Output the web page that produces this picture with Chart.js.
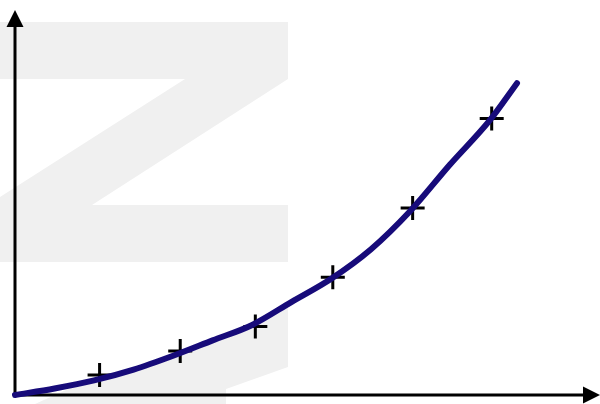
<!DOCTYPE html>
<html>
<head>
<meta charset="utf-8">
<style>
  html, body { margin: 0; padding: 0; background: #fff; overflow: hidden; }
  canvas { display: block; }
</style>
</head>
<body>
<canvas id="growthChart" width="600" height="404"></canvas>
<script src="https://cdn.jsdelivr.net/npm/chart.js@4/dist/chart.umd.min.js"></script>
<script>
// smooth trend curve
const curveX = [0, 0.5, 1, 1.5, 2, 2.5, 3, 3.5, 4, 4.5, 5, 5.5, 6, 6.35];
const curveY = [0, 0.85, 1.9, 3.3, 5.1, 7.1, 9.1, 12.1, 15.1, 18.9, 23.9, 29.9, 35.6, 40.5];

// measured samples (drawn as + marks)
const sampleX = [1.07, 2.09, 3.04, 4.02, 5.03, 6.03];
const sampleY = [2.6, 5.7, 8.9, 15.3, 24.3, 35.9];

const X_MAX = 7.4;
const Y_MAX = 50;

const toPoints = (xs, ys) => xs.map((x, i) => ({x: x, y: ys[i]}));

// big grey "Z" behind the plot
const watermark = {
  id: 'watermark',
  beforeDatasetsDraw(chart) {
    const ctx = chart.ctx;
    ctx.save();
    ctx.fillStyle = '#f0f0f0';
    ctx.beginPath();
    ctx.moveTo(0, 22);
    ctx.lineTo(288, 22);
    ctx.lineTo(288, 79);
    ctx.lineTo(92, 205);
    ctx.lineTo(288, 205);
    ctx.lineTo(288, 262);
    ctx.lineTo(0, 262);
    ctx.lineTo(0, 197);
    ctx.lineTo(185, 79);
    ctx.lineTo(0, 79);
    ctx.closePath();
    ctx.fill();

    // lower piece only shows underneath the curve
    const meta = chart.getDatasetMeta(0);
    const pts = meta.data;
    ctx.beginPath();
    if (typeof meta.dataset.path === 'function') {
      meta.dataset.path(ctx);
    } else {
      ctx.moveTo(pts[0].x, pts[0].y);
      for (let i = 1; i < pts.length; i++) ctx.lineTo(pts[i].x, pts[i].y);
    }
    ctx.lineTo(pts[pts.length - 1].x, chart.height);
    ctx.lineTo(pts[0].x, chart.height);
    ctx.closePath();
    ctx.clip();

    ctx.beginPath();
    ctx.moveTo(35, 404);
    ctx.lineTo(226, 404);
    ctx.lineTo(226, 389);
    ctx.lineTo(288, 367);
    ctx.lineTo(288, 290);
    ctx.closePath();
    ctx.fill();
    ctx.restore();
  }
};

// plain axes with arrow heads
const arrowAxes = {
  id: 'arrowAxes',
  beforeDatasetsDraw(chart) {
    const {ctx, scales: {x, y}} = chart;
    const ox = x.getPixelForValue(0);
    const oy = y.getPixelForValue(0);
    const xEnd = x.getPixelForValue(X_MAX);
    const yEnd = y.getPixelForValue(Y_MAX);
    const head = 17, half = 8.5;

    ctx.save();
    ctx.strokeStyle = '#000';
    ctx.fillStyle = '#000';
    ctx.lineWidth = 3;
    ctx.beginPath();
    ctx.moveTo(ox, oy);
    ctx.lineTo(xEnd - head + 1, oy);
    ctx.moveTo(ox, oy);
    ctx.lineTo(ox, yEnd + head - 1);
    ctx.stroke();

    ctx.beginPath();
    ctx.moveTo(xEnd, oy);
    ctx.lineTo(xEnd - head, oy - half);
    ctx.lineTo(xEnd - head, oy + half);
    ctx.closePath();
    ctx.fill();

    ctx.beginPath();
    ctx.moveTo(ox, yEnd);
    ctx.lineTo(ox - half, yEnd + head);
    ctx.lineTo(ox + half, yEnd + head);
    ctx.closePath();
    ctx.fill();
    ctx.restore();
  }
};

new Chart(document.getElementById('growthChart'), {
  type: 'scatter',
  data: {
    datasets: [
      {
        data: toPoints(curveX, curveY),
        showLine: true,
        borderColor: '#170b7a',
        borderWidth: 6,
        borderCapStyle: 'round',
        borderJoinStyle: 'round',
        cubicInterpolationMode: 'monotone',
        pointRadius: 0,
        clip: false
      },
      {
        data: toPoints(sampleX, sampleY),
        pointStyle: 'cross',
        pointRadius: 12,
        pointBorderWidth: 3,
        borderColor: '#000',
        backgroundColor: '#000',
        clip: false
      }
    ]
  },
  options: {
    responsive: false,
    animation: false,
    layout: { autoPadding: false, padding: { left: 15, right: 0, top: 10, bottom: 9 } },
    scales: {
      x: { type: 'linear', min: 0, max: X_MAX, display: false },
      y: { type: 'linear', min: 0, max: Y_MAX, display: false }
    },
    plugins: {
      legend: { display: false },
      tooltip: { enabled: false }
    }
  },
  plugins: [watermark, arrowAxes]
});
</script>
</body>
</html>
